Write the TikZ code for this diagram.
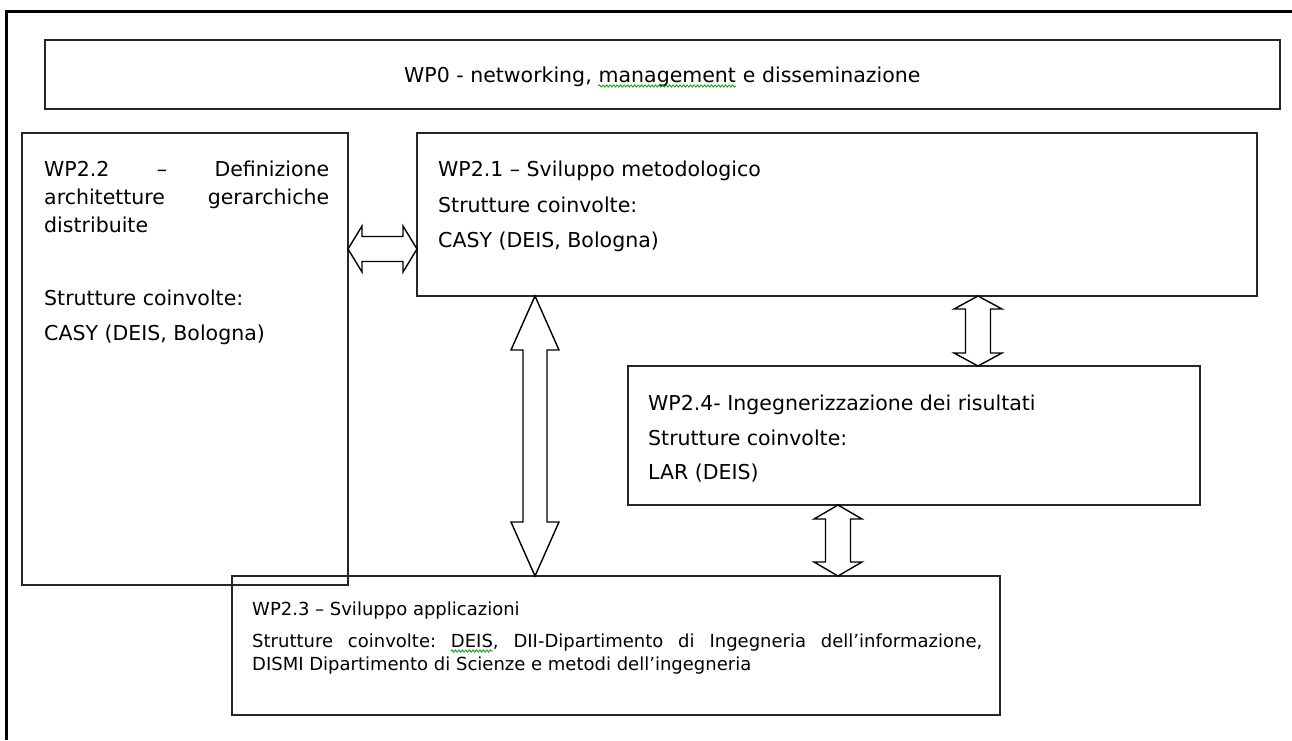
\documentclass[tikz,border=0pt]{standalone}
\usepackage{fontspec}
\setmainfont{DejaVu Sans}
\usetikzlibrary{calc,decorations.pathmorphing}

\newlength\linefull
\newlength\linelead
\newlength\wordw
\newlength\wordoff
\newcommand\bigtext{\fontsize{20.5}{24}\selectfont\frenchspacing}
\newcommand\smalltext{\fontsize{18}{22}\selectfont\frenchspacing}

% justified line with a marked word: #1 width, #2 text before the word,
% #3 marked word, #4 text after it, #5 number of spaces before the word,
% #6 number of spaces in the whole line
\newcommand\markedline[6]{%
  \settowidth\linefull{#2#3#4}%
  \settowidth\linelead{#2}%
  \settowidth\wordw{#3}%
  \global\wordw=\wordw
  \global\wordoff=\dimexpr\linelead+(#1-\linefull)*#5/#6\relax
  \makebox[#1][s]{#2#3#4}}

% outlined double block arrow between two tips:
% #1 tip A, #2 tip B, #3 head length, #4 head half width, #5 shaft half width
\newcommand\dblblock[5]{%
  \draw[blockarrow] (#1)
    -- ($(#1)!#3!(#2)!#4!90:(#2)$)
    -- ($(#1)!#3!(#2)!#5!90:(#2)$)
    -- ($(#2)!#3!(#1)!#5!-90:(#1)$)
    -- ($(#2)!#3!(#1)!#4!-90:(#1)$)
    -- (#2)
    -- ($(#2)!#3!(#1)!#4!90:(#1)$)
    -- ($(#2)!#3!(#1)!#5!90:(#1)$)
    -- ($(#1)!#3!(#2)!#5!-90:(#2)$)
    -- ($(#1)!#3!(#2)!#4!-90:(#2)$)
    -- cycle;}

\begin{document}
\begin{tikzpicture}[x=1pt,y=-1pt,
  wpbox/.style={draw=black!85, line width=1.8pt, rectangle, inner sep=0pt,
    outer sep=0pt, anchor=north west},
  big/.style={inner sep=0pt, anchor=base west, font=\bigtext},
  small/.style={inner sep=0pt, anchor=base west, font=\smalltext},
  blockarrow/.style={draw=black, line width=1.4pt, fill=white, line join=miter},
  spellmark/.style={draw=green!60!black, line width=0.8pt, decorate,
    decoration={snake, amplitude=1.1pt, segment length=3.5pt}}]

\useasboundingbox (0,0) rectangle (1292,740);

% page frame: left and top edges
\draw[line width=3pt] (6,740) -- (6,11) -- (1292,11);

% work package boxes
\node[wpbox, minimum width=1235pt, minimum height=69pt]  (wp0)  at (45,40)   {};
\node[wpbox, minimum width=326pt,  minimum height=452pt] (wp22) at (22,133)  {};
\node[wpbox, minimum width=840pt,  minimum height=163pt] (wp21) at (417,133) {};
\node[wpbox, minimum width=572pt,  minimum height=139pt] (wp24) at (628,366) {};
\node[wpbox, minimum width=768pt,  minimum height=139pt] (wp23) at (232,576) {};

% WP0
\node[big] (t0a) at (404,82) {WP0 - networking,\ \mbox{}};
\node[big] (t0b) at (t0a.base east) {management};
\node[big] (t0c) at (t0b.base east) {\ e disseminazione};
\draw[spellmark] ([yshift=-4pt]t0b.base west) -- ([yshift=-4pt]t0b.base east);

% WP2.2
\node[big] (t22a) at (44,176) {\makebox[285pt][s]{WP2.2 – Definizione}};
\node[big] (t22b) at (44,204) {\makebox[285pt][s]{architetture gerarchiche}};
\node[big] (t22c) at (44,232) {distribuite};
\node[big] (t22d) at (44,305) {Strutture coinvolte:};
\node[big] (t22e) at (44,340) {CASY (DEIS, Bologna)};

% WP2.1
\node[big] (t21a) at (438,176) {WP2.1 – Sviluppo metodologico};
\node[big] (t21b) at (438,212) {Strutture coinvolte:};
\node[big] (t21c) at (438,247) {CASY (DEIS, Bologna)};

% WP2.4
\node[big] (t24a) at (648,410) {WP2.4- Ingegnerizzazione dei risultati};
\node[big] (t24b) at (648,445) {Strutture coinvolte:};
\node[big] (t24c) at (648,479) {LAR (DEIS)};

% WP2.3
\node[small] (t23a) at (252,615) {WP2.3 – Sviluppo applicazioni};
\node[small] (t23b) at (252,647)
  {\markedline{730pt}{Strutture coinvolte: }{DEIS}{, DII-Dipartimento di Ingegneria dell’informazione,}{2}{6}};
\draw[spellmark] ([xshift=\wordoff,yshift=-4pt]t23b.base west) -- ++(\wordw,0pt);
\node[small] (t23c) at (252,670) {DISMI Dipartimento di Scienze e metodi dell’ingegneria};

% arrow tips on the box borders
\coordinate (row1) at (0,249);
\coordinate (col1) at (535,0);
\coordinate (col2) at (978,0);
\coordinate (col3) at (838,0);
\coordinate (h1a) at (wp22.east |- row1);
\coordinate (h1b) at (wp21.west |- row1);
\coordinate (v1a) at (wp21.south -| col1);
\coordinate (v1b) at (wp23.north -| col1);
\coordinate (v2a) at (wp21.south -| col2);
\coordinate (v2b) at (wp24.north -| col2);
\coordinate (v3a) at (wp24.south -| col3);
\coordinate (v3b) at (wp23.north -| col3);

% double block arrows
\dblblock{h1a}{h1b}{14pt}{23pt}{12.5pt}
\dblblock{v1a}{v1b}{54pt}{24pt}{12pt}
\dblblock{v2a}{v2b}{13pt}{24pt}{12.5pt}
\dblblock{v3a}{v3b}{14pt}{24pt}{12.5pt}

\end{tikzpicture}
\end{document}
